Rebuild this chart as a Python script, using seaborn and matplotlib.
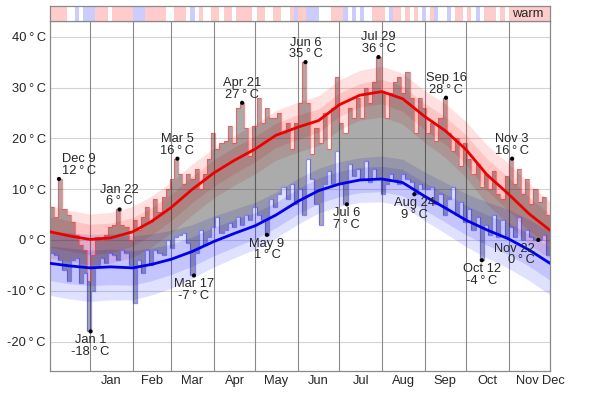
import numpy as np
import pandas as pd
import seaborn as sns
import matplotlib.pyplot as plt
import matplotlib.transforms as mtransforms
from matplotlib.colors import ListedColormap

# days are counted from Dec 1 of the previous year (Jan 1 = day 31)
bin_start = list(range(2, 365, 3))  # 3-day bins

daily_high = [
    6.5, 4.5, 12, 6, 5, 3.5, 1, -1, -2, -8,
    -3, 0.5, 0, 1, 2.5, 3, 6, 3, 2.5, 0,
    4, 2, 4.5, 6.5, 3.5, 8, 5.5, 8.5, 10, 12,
    16, 13, 11, 13, 12, 14, 10, 13, 16, 21,
    18, 19, 19.5, 22.5, 19, 26, 27, 22, 16.5, 22.5,
    28, 23, 26, 24, 24, 25, 21, 23, 18, 23,
    27, 35, 27, 17, 22, 19, 25, 18, 26, 32,
    23, 21, 26, 24, 28, 24, 30, 27, 31, 36,
    29, 24, 29, 31, 32, 29, 33, 28, 21, 28,
    26, 21, 23, 19.5, 24, 28, 21, 17.5, 20, 14.5,
    19, 16, 13, 15, 10.5, 13, 10, 13.5, 9, 8,
    12.5, 16, 11, 14, 9, 12, 7, 10, 7.5, 8.5,
    5,
]
daily_low = [
    -2.5, -3, -4, -6, -8, -4, -3.5, -8.5, -6.5, -18,
    -10, -5, -3.5, -4.5, -2.5, -3, -4, -2, -2.5, -5,
    -12.5, -4, -6.5, -2, -5, -2, -2.5, -3, 0, -1.5,
    0.5, 1, 1.3, -0.7, -7, -2.6, 2, -1, 0.5, 2.6,
    4.6, 1.3, 2, 3.3, 2.5, 4.6, 3, 5, 4, 6.5,
    5, 4, 1, 8, 6.5, 9, 10.5, 8, 11, 7,
    10, 5, 16, 12, 7, 3, 11, 13.5, 11, 17.5,
    11, 7, 15, 12.5, 14, 12, 15.5, 11.5, 14, 12,
    9, 11, 13, 12, 11, 13, 12, 11.5, 9, 11,
    10, 10, 10.5, 7, 9, 5, 8, 10.5, 5, 7.5,
    3.5, 6, 2, 4.5, -4, 3, 1, 5, 0.5, 4,
    0.5, 2.5, 0.5, 4.5, 0, 2, 0.5, 0, 0, 1,
    -3,
]
# top strip: 1 = warm, 0 = normal, -1 = cold
strip_code = [
    1, 1, 1, 1, 0, 0, -1, 0, -1, -1,
    -1, 1, 1, 1, 0, 1, 1, 1, 1, 1,
    -1, -1, -1, 1, 1, 1, 1, 1, 0, 0,
    1, 1, 1, 0, -1, 0, 1, 0, 0, 1,
    1, 0, 1, 1, 0, 1, 1, 1, 1, 0,
    1, 1, 0, 0, 1, 1, 0, 0, 1, -1,
    1, 1, -1, -1, -1, 0, 0, 0, 1, 1,
    1, -1, 0, -1, 0, -1, 0, 0, 1, 1,
    1, 0, -1, 1, 1, 0, 1, 0, 1, 0,
    -1, 0, 1, -1, 0, 0, -1, 0, 1, 1,
    0, 1, 0, -1, 0, 1, 1, 1, 0, 1,
    0, 1, 1, 1, 1, 1, 1, 1, 1, 1,
    1,
]

normal_day = [2, 16, 31, 46, 62, 76, 90, 105, 121, 136, 151, 166, 182,
              197, 212, 227, 243, 258, 274, 289, 304, 319, 335, 350, 365]
avg_high = [1.6, 0.8, 0.1, 0.4, 1.6, 3.7, 6.4, 9.9, 13.2, 15.7, 17.9, 20.6, 22.2,
            23.5, 26.6, 28.5, 29.2, 27.8, 24.3, 21.5, 17.8, 12.9, 9.0, 5.1, 1.9]
avg_low = [-4.6, -5.1, -5.5, -5.3, -5.5, -4.8, -3.8, -2.3, -0.3, 1.3, 2.8, 4.9, 7.6,
           9.7, 11.0, 11.8, 12.0, 11.3, 8.6, 6.3, 3.9, 2.0, 0.2, -2.0, -4.6]
high_in = [3.0, 3.0, 3.0, 2.9, 2.8, 2.7, 2.6, 2.6, 2.6, 2.6, 2.5, 2.4, 2.4,
           2.3, 2.3, 2.3, 2.4, 2.5, 2.6, 2.7, 2.9, 3.1, 3.3, 3.3, 3.1]
high_out = [5.2, 5.0, 5.0, 5.0, 5.0, 5.0, 5.0, 5.0, 4.9, 4.9, 4.9, 4.9, 4.9,
            4.9, 4.9, 4.9, 5.0, 5.0, 5.1, 5.3, 5.5, 5.8, 6.0, 6.0, 5.6]
low_in = [3.4, 3.5, 3.5, 3.5, 3.4, 3.2, 3.0, 2.9, 2.8, 2.7, 2.6, 2.5, 2.5,
          2.5, 2.5, 2.5, 2.5, 2.6, 2.7, 2.8, 2.9, 3.0, 3.1, 3.2, 3.3]
low_out = [6.3, 6.5, 6.6, 6.5, 6.3, 6.0, 5.7, 5.3, 5.0, 4.8, 4.6, 4.5, 4.5,
           4.4, 4.4, 4.4, 4.5, 4.6, 4.8, 5.0, 5.2, 5.5, 5.8, 6.0, 6.2]

peak_label = ["Dec 9", "Jan 22", "Mar 5", "Apr 21", "Jun 6", "Jul 29", "Sep 16", "Nov 3"]
peak_day = [8, 52, 94, 141, 187, 240, 289, 337]
peak_temp = [12, 6, 16, 27, 35, 36, 28, 16]
trough_label = ["Jan 1", "Mar 17", "May 9", "Jul 6", "Aug 24", "Oct 12", "Nov 22"]
trough_day = [31, 106, 159, 217, 266, 315, 356]
trough_temp = [-18, -7, 1, 7, 9, -4, 0]

month_names = ["Jan", "Feb", "Mar", "Apr", "May", "Jun",
               "Jul", "Aug", "Sep", "Oct", "Nov", "Dec"]
month_start = [31, 62, 90, 121, 151, 182, 212, 243, 274, 304, 335, 365]
y_ticks = [-20, -10, 0, 10, 20, 30, 40]


def deg(v):
    return f"{v}\u2009°\u2009C"


sns.set_theme(style="white")
plt.rcParams["font.family"] = ["Liberation Sans", "DejaVu Sans"]
FS = 9.3

fig = plt.figure(figsize=(6, 3.94), dpi=100)
ax = fig.add_axes([50 / 600, 1 - 371 / 394, 500 / 600, 350 / 394])
sax = fig.add_axes([50 / 600, 1 - 21 / 394, 500 / 600, 15 / 394])

# gridlines
for t in y_ticks:
    ax.axhline(t, color="#d4d4d4", lw=0.8, zorder=0.5)
for m in month_start[:-1]:
    ax.axvline(m, color="#8a8a8a", lw=0.8, zorder=0.6)

# percentile bands around the normals
nd = np.array(normal_day)
ah, al = np.array(avg_high), np.array(avg_low)
for spread in (high_out, high_in):
    s = np.array(spread)
    ax.fill_between(nd, ah - s, ah + s, color="#ff0000", alpha=0.12, lw=0, zorder=1)
for spread in (low_out, low_in):
    s = np.array(spread)
    ax.fill_between(nd, al - s, al + s, color="#0000ff", alpha=0.12, lw=0, zorder=1)

# daily range
edges = bin_start + [365]
ax.fill_between(edges, daily_low + [daily_low[-1]], daily_high + [daily_high[-1]],
                step="post", color="black", alpha=0.33, lw=0, zorder=2)
ax.stairs(daily_high, edges, baseline=None, color="#ff4040", alpha=0.6, lw=0.9, zorder=2.5)
ax.stairs(daily_low, edges, baseline=None, color="#4040ff", alpha=0.6, lw=0.9, zorder=2.5)

# average lines
norm = pd.DataFrame({"day": normal_day, "high": avg_high, "low": avg_low})
sns.lineplot(data=norm, x="day", y="high", color="#ee0000", lw=2, ax=ax, zorder=3)
sns.lineplot(data=norm, x="day", y="low", color="#0000ee", lw=2, ax=ax, zorder=3)

# record markers
px = [d + 0.5 for d in peak_day] + [d + 0.5 for d in trough_day]
py = peak_temp + trough_temp
sns.scatterplot(x=px, y=py, color="black", s=9, edgecolor="none", ax=ax, zorder=4)
for lab, d, v in zip(peak_label, peak_day, peak_temp):
    ha, dx = "center", 0
    if lab == "Dec 9":
        ha, dx = "left", 2.5
    ax.annotate(f"{lab}\n{deg(v)}", (d + 0.5, v), xytext=(dx, 1.5),
                textcoords="offset points", ha=ha, va="bottom",
                multialignment=ha, linespacing=0.95, fontsize=FS, zorder=5)
for lab, d, v in zip(trough_label, trough_day, trough_temp):
    ha, dx = "center", 0
    if lab == "Nov 22":
        ha, dx = "right", -2.5
    ax.annotate(f"{lab}\n{deg(v)}", (d + 0.5, v), xytext=(dx, -2),
                textcoords="offset points", ha=ha, va="top",
                multialignment=ha, linespacing=0.95, fontsize=FS, zorder=5)

ax.set_xlim(2, 365)
ax.set_ylim(-25.8, 43.1)
ax.set_xlabel("")
ax.set_ylabel("")
ax.set_yticks(y_ticks)
ax.set_yticklabels([deg(t) for t in y_ticks])
ax.set_xticks([])
ax.tick_params(axis="both", which="both", length=0, labelsize=FS)
ax.tick_params(axis="y", pad=3)

# month names sit in the middle of each month; Dec is squeezed past the right edge
mid = [(a + b) / 2 for a, b in zip(month_start[:-1], month_start[1:])]
mid[-1] -= 1.5
mid.append(367.5)
trans = mtransforms.blended_transform_factory(ax.transData, ax.transAxes)
for name, x in zip(month_names, mid):
    ax.text(x, -0.012, name, transform=trans, ha="center", va="top",
            fontsize=FS, clip_on=False)

for sp in ax.spines.values():
    sp.set_visible(True)
    sp.set_color("#8a8a8a")
    sp.set_linewidth(0.9)

# warm / cold strip
sns.heatmap(np.array([strip_code]), ax=sax, cmap=ListedColormap(["#ccccff", "#ffffff", "#ffcccc"]),
            vmin=-1.5, vmax=1.5, cbar=False, xticklabels=False, yticklabels=False)
for sp in sax.spines.values():
    sp.set_visible(True)
    sp.set_color("#8a8a8a")
    sp.set_linewidth(0.9)
sax.text(0.986, 0.45, "warm", transform=sax.transAxes, ha="right", va="center", fontsize=FS)

fig.savefig("out.png", dpi=100)
